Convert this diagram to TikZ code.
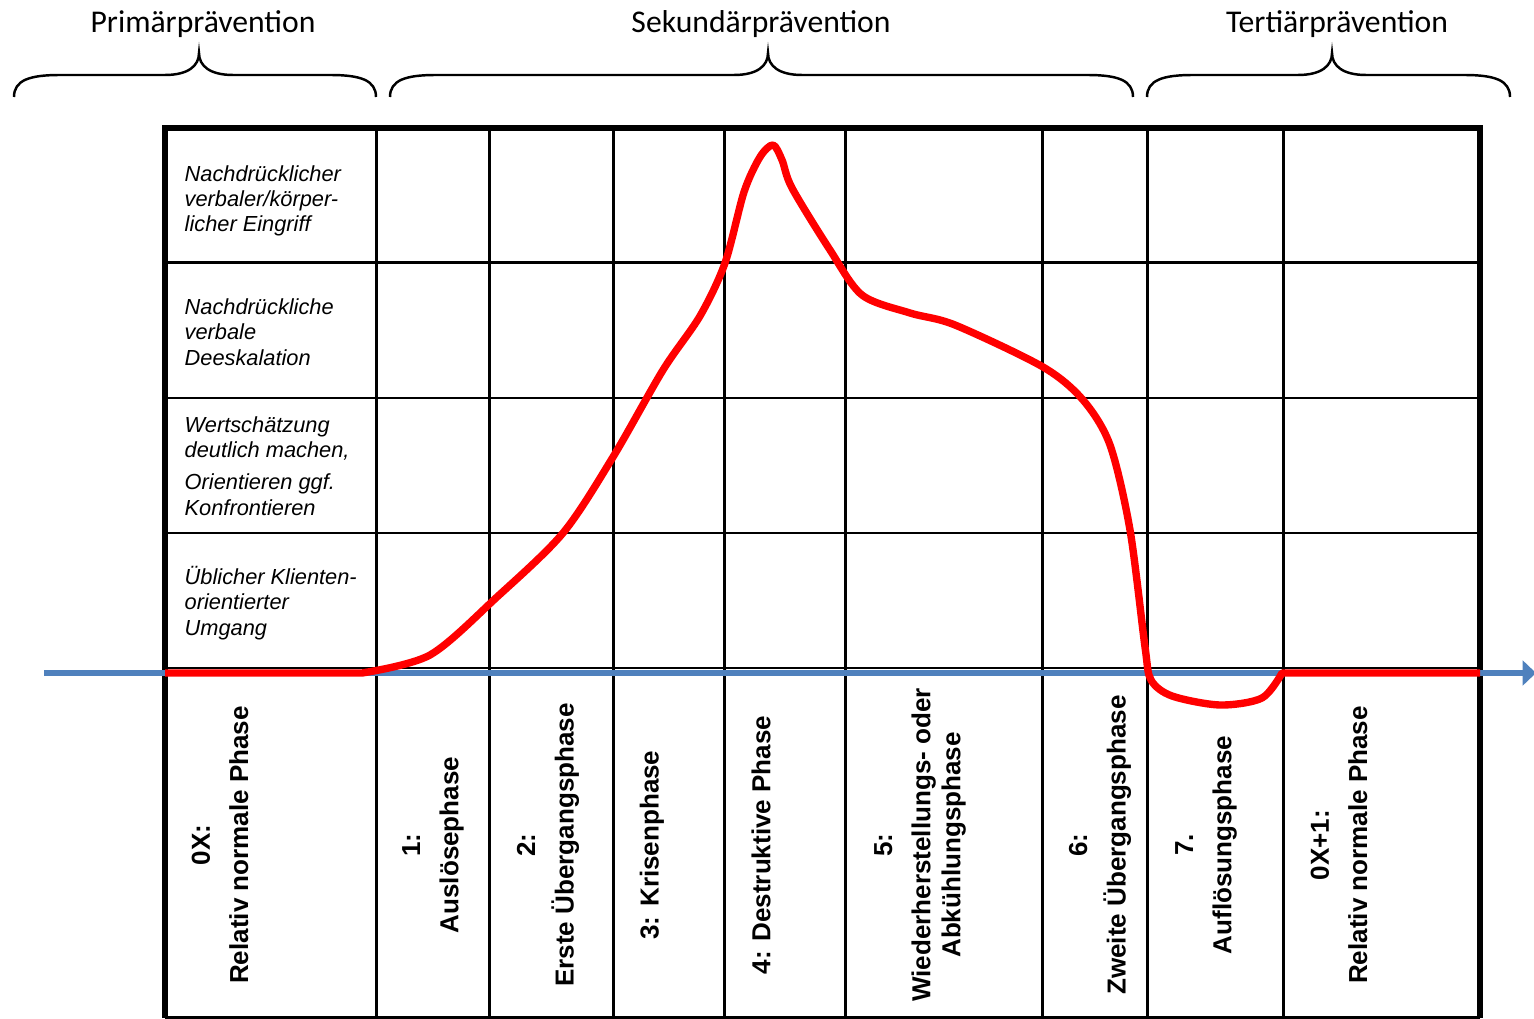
\documentclass[tikz,border=0pt]{standalone}
\usepackage{fontspec}
\setmainfont{Liberation Sans}
\newfontfamily\calibri{Carlito}
\usetikzlibrary{arrows.meta}
\definecolor{achsblau}{HTML}{4F81BD}
\definecolor{kurvenrot}{HTML}{FF0000}

\begin{document}
\begin{tikzpicture}[x=0.01cm, y=-0.01cm,
    gitter/.style={line width=0.85pt},
    rahmen/.style={line width=1.6pt},
    klammer/.style={line width=0.7pt},
    achse/.style={line width=1.9pt, achsblau, -{Triangle[length=3.8pt, width=7pt]}},
    kurve/.style={line width=2.1pt, kurvenrot, line join=round},
    praev/.style={font=\calibri\fontsize{9}{10.5}\selectfont, anchor=base, inner sep=0pt},
    stufe/.style={font=\itshape\fontsize{6.2}{7.2}\selectfont, align=left, anchor=west, inner sep=0pt},
    phase/.style={font=\bfseries\fontsize{7.4}{8.5}\selectfont, align=center, rotate=90, inner sep=0pt}]
    \useasboundingbox (0,0) rectangle (1534,1019);
    % Praeventionsstufen oben:
    \node[praev] (primaer) at (203,33) {Primärprävention};
    \node[praev] (sekundaer) at (761,33) {Sekundärprävention};
    \node[praev] (tertiaer) at (1337,33) {Tertiärprävention};
    % Klammern:
    \draw[klammer] (14,97) .. controls (14,80) and (30,75) .. (60,75) -- (165,75) .. controls (188,75) and (199,66) .. (199,53) .. controls (199,66) and (210,75) .. (233,75) -- (330,75) .. controls (360,75) and (376,80) .. (376,97); % erste Klammer
    \draw[klammer] (390,97) .. controls (390,80) and (406,75) .. (436,75) -- (734,75) .. controls (757,75) and (768,66) .. (768,53) .. controls (768,66) and (779,75) .. (802,75) -- (1087,75) .. controls (1117,75) and (1133,80) .. (1133,97); % zweite Klammer
    \draw[klammer] (1147,97) .. controls (1147,80) and (1163,75) .. (1193,75) -- (1298,75) .. controls (1321,75) and (1332,66) .. (1332,53) .. controls (1332,66) and (1343,75) .. (1366,75) -- (1464,75) .. controls (1494,75) and (1510,80) .. (1510,97); % dritte Klammer
    % Zeilen:
    \draw[gitter] (165,263) -- (1480,263);
    \draw[gitter] (165,398) -- (1480,398);
    \draw[gitter] (165,533) -- (1480,533);
    \draw[gitter] (165,668) -- (1480,668);
    \draw[gitter] (165,1017) -- (1480,1017);
    % Spalten:
    \draw[gitter] (376,128) -- (376,1017);
    \draw[gitter] (489,128) -- (489,1017);
    \draw[gitter] (613,128) -- (613,1017);
    \draw[gitter] (724,128) -- (724,1017);
    \draw[gitter] (845,128) -- (845,1017);
    \draw[gitter] (1042,128) -- (1042,1017);
    \draw[gitter] (1147,128) -- (1147,1017);
    \draw[gitter] (1283,128) -- (1283,1017);
    % Rahmen:
    \draw[rahmen] (165,1018) -- (165,128) -- (1480,128) -- (1480,1018);
    % Interventionsstufen:
    \node[stufe] (stufe4) at (184,201) {Nachdrücklicher\\verbaler/körper-\\licher Eingriff};
    \node[stufe] (stufe3) at (184,332) {Nachdrückliche\\verbale\\Deeskalation};
    \node[stufe] (stufe2) at (184,466) {Wertschätzung\\deutlich machen,\\[2pt]Orientieren ggf.\\Konfrontieren};
    \node[stufe] (stufe1) at (184,603) {Üblicher Klienten-\\orientierter\\Umgang};
    % Phasen:
    \node[phase] (phase0) at (220,845) {0X:\\[2.4pt]Relativ normale Phase};
    \node[phase] (phase1) at (433,845) {1:\\[2.4pt]Auslösephase};
    \node[phase] (phase2) at (548,845) {2:\\[2.4pt]Erste Übergangsphase};
    \node[phase] (phase3) at (652,845) {3: Krisenphase};
    \node[phase] (phase4) at (761,845) {4: Destruktive Phase};
    \node[phase] (phase5) at (920,845) {5:\\[2.4pt]Wiederherstellungs- oder\\Abkühlungsphase};
    \node[phase] (phase6) at (1100,845) {6:\\[2.4pt]Zweite Übergangsphase};
    \node[phase] (phase7) at (1206,845) {7.\\[2.4pt]Auflösungsphase};
    \node[phase] (phase8) at (1339,845) {0X+1:\\[2.4pt]Relativ normale Phase};
    % Zeitachse:
    \draw[achse] (44,673) -- (1536,673);
    % Eskalationskurve:
    \draw[kurve] (165,673) -- (362,673) -- plot[smooth, tension=0.5] coordinates {(362,673) (430,655) (497,597) (563,533) (613,457) (663,370) (700,316) (725,263) (744,192) (760,157) (773,145) (782,160) (792,188) (830,250) (862,295) (910,313) (955,325) (1043,367) (1083,400) (1110,445) (1130,530) (1145,647) (1151,680) (1172,696) (1220,705) (1262,698) (1282,673)} -- (1480,673);
\end{tikzpicture}
\end{document}
